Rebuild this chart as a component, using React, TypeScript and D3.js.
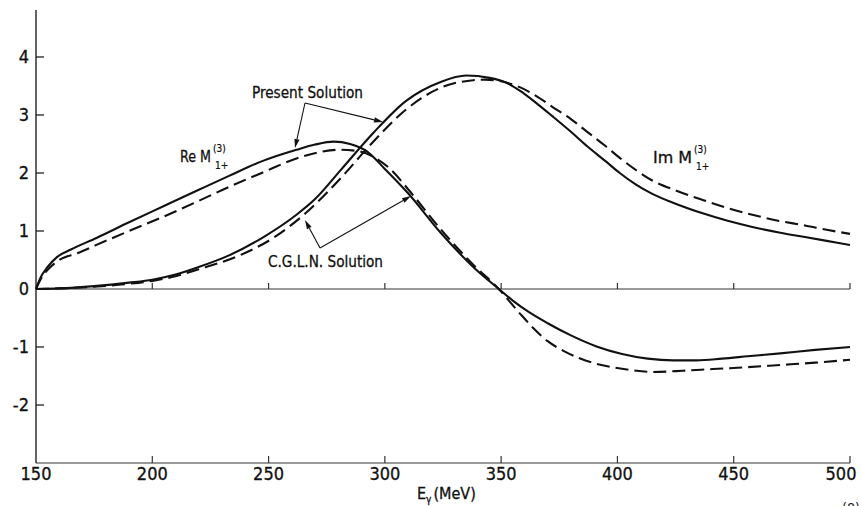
import React from "react"
import * as d3 from "d3"

const W = 861
const H = 506
const FONT = "'Liberation Sans Narrow', 'DejaVu Sans Condensed', 'Liberation Sans', sans-serif"

// x ticks (MeV) and y ticks
const xTicks = [150, 200, 250, 300, 350, 400, 450, 500]
const yTicks = [-2, -1, 0, 1, 2, 3, 4]

// Re M(3)1+ , present solution (solid)
const reSolidE = [150, 152, 155, 159, 165, 176, 190, 205, 220, 233, 247, 262, 270, 278, 285, 292, 300, 310, 324, 338, 349, 355, 362, 370, 380, 391, 402, 413, 424, 434, 445, 456, 470, 485, 500]
const reSolidV = [0, 0.2, 0.38, 0.55, 0.68, 0.88, 1.15, 1.43, 1.71, 1.95, 2.2, 2.4, 2.49, 2.54, 2.5, 2.38, 2.07, 1.65, 0.97, 0.38, 0, -0.2, -0.4, -0.59, -0.8, -0.99, -1.12, -1.2, -1.23, -1.23, -1.2, -1.16, -1.11, -1.05, -1.0]

// Re M(3)1+ , C.G.L.N. solution (dashed)
const reDashE = [150, 152, 155, 160, 168, 176, 190, 205, 220, 233, 247, 262, 272, 280, 288, 295, 302, 310, 324, 338, 349, 358, 364, 370, 377, 384, 391, 398, 406, 415, 428, 441, 455, 470, 485, 500]
const reDashV = [0, 0.17, 0.33, 0.5, 0.62, 0.76, 1.0, 1.25, 1.52, 1.76, 2.0, 2.25, 2.36, 2.4, 2.38, 2.28, 2.08, 1.72, 1.03, 0.42, 0, -0.42, -0.68, -0.9, -1.07, -1.2, -1.29, -1.35, -1.4, -1.43, -1.41, -1.38, -1.35, -1.31, -1.27, -1.22]

// Im M(3)1+ , present solution (solid)
const imSolidE = [150, 160, 175, 190, 200, 210, 220, 233, 248, 262, 270, 281, 295, 309, 324, 335, 345, 352, 358, 365, 372, 380, 387, 395, 401, 408, 415, 425, 437, 447, 458, 470, 480, 490, 500]
const imSolidV = [0, 0.01, 0.05, 0.11, 0.16, 0.25, 0.38, 0.58, 0.9, 1.28, 1.55, 2.05, 2.69, 3.24, 3.57, 3.68, 3.64, 3.56, 3.42, 3.21, 2.98, 2.71, 2.46, 2.2, 2.0, 1.8, 1.64, 1.47, 1.3, 1.18, 1.07, 0.97, 0.9, 0.83, 0.76]

// Im M(3)1+ , C.G.L.N. solution (dashed)
const imDashE = [150, 160, 175, 190, 200, 210, 220, 237, 252, 266, 281, 295, 309, 324, 338, 343, 350, 358, 365, 372, 380, 387, 395, 401, 408, 415, 425, 437, 447, 458, 470, 480, 490, 500]
const imDashV = [0, 0.01, 0.04, 0.09, 0.14, 0.22, 0.34, 0.57, 0.88, 1.31, 1.91, 2.54, 3.09, 3.47, 3.6, 3.61, 3.58, 3.48, 3.33, 3.14, 2.93, 2.71, 2.46, 2.26, 2.05, 1.87, 1.7, 1.53, 1.4, 1.28, 1.17, 1.1, 1.02, 0.95]

const x = d3.scaleLinear().domain([150, 500]).range([36, 850])
const y = d3.scaleLinear().domain([-3, 4.81]).range([463, 10])

function path(es: number[], vs: number[]) {
  const pts: [number, number][] = es.map((e, i) => [x(e), y(vs[i])])
  return d3.line().curve(d3.curveMonotoneX)(pts) || ""
}

function Arrow({ x1, y1, x2, y2 }: { x1: number; y1: number; x2: number; y2: number }) {
  const a = Math.atan2(y2 - y1, x2 - x1)
  const L = 9
  const w = 2.6
  const bx = x2 - L * Math.cos(a)
  const by = y2 - L * Math.sin(a)
  const p1 = [bx + w * Math.sin(a), by - w * Math.cos(a)]
  const p2 = [bx - w * Math.sin(a), by + w * Math.cos(a)]
  return (
    <g>
      <line x1={x1} y1={y1} x2={bx} y2={by} stroke="#111" strokeWidth={1.1} />
      <polygon points={`${x2},${y2} ${p1[0]},${p1[1]} ${p2[0]},${p2[1]}`} fill="#111" />
    </g>
  )
}

// label like "Re M(3)1+" with stacked super/subscript
function MLabel({ lx, ly, name, w }: { lx: number; ly: number; name: string; w: number }) {
  return (
    <g fill="#111" stroke="#111" strokeWidth={0.3}>
      <text x={lx} y={ly} fontSize={16} textLength={w} lengthAdjust="spacingAndGlyphs">
        {name}
      </text>
      <text x={lx + w + 2} y={ly - 10} fontSize={10} strokeWidth={0.2}>(3)</text>
      <text x={lx + w + 4} y={ly + 7} fontSize={10} strokeWidth={0.2}>1+</text>
    </g>
  )
}

export default function App() {
  const y0 = y(0)
  const yb = y(-3)
  return (
    <svg
      width={W}
      height={H}
      viewBox={`0 0 ${W} ${H}`}
      style={{ position: "absolute", left: 0, top: 0, background: "#fff" }}
      fontFamily={FONT}
    >
      {/* axes */}
      <line x1={x(150)} y1={y(4.81)} x2={x(150)} y2={yb} stroke="#222" strokeWidth={1.4} />
      <line x1={x(150)} y1={yb} x2={x(500)} y2={yb} stroke="#333" strokeWidth={1.2} />
      <line x1={x(150)} y1={y0} x2={x(500)} y2={y0} stroke="#333" strokeWidth={1.1} />
      {yTicks.map((t) => (
        <g key={"y" + t}>
          {t !== 0 && <line x1={x(150)} y1={y(t)} x2={x(150) + 8} y2={y(t)} stroke="#222" strokeWidth={1.3} />}
          <text x={29} y={y(t)} dy="0.36em" textAnchor="end" fontSize={18} fill="#111" stroke="#111" strokeWidth={0.3}>
            {t < 0 ? "-" + Math.abs(t) : t}
          </text>
        </g>
      ))}
      {xTicks.slice(1).map((t) => (
        <g key={"x" + t}>
          <line x1={x(t)} y1={y0} x2={x(t)} y2={y0 - 6} stroke="#333" strokeWidth={1.2} />
          <line x1={x(t)} y1={yb} x2={x(t)} y2={yb - 7} stroke="#333" strokeWidth={1.2} />
        </g>
      ))}
      {xTicks.map((t) => (
        <text
          key={"xl" + t}
          x={Math.min(x(t), 841)}
          y={480}
          textAnchor="middle"
          fontSize={18}
          fill="#111"
          stroke="#111"
          strokeWidth={0.3}
        >
          {t}
        </text>
      ))}
      <text x={417} y={499} fontSize={16} fill="#111" stroke="#111" strokeWidth={0.3}>
        E<tspan fontSize={10} dy={4}>γ</tspan>
        <tspan dy={-4} dx={2}>(MeV)</tspan>
      </text>

      {/* curves */}
      <g fill="none" stroke="#111" strokeWidth={2.1}>
        <path d={path(reSolidE, reSolidV)} />
        <path d={path(imSolidE, imSolidV)} />
        <path d={path(reDashE, reDashV)} strokeDasharray="13 6" />
        <path d={path(imDashE, imDashV)} strokeDasharray="13 6" />
      </g>

      {/* labels */}
      <MLabel lx={180} ly={162} name="Re M" w={31} />
      <MLabel lx={653} ly={163} name="Im M" w={39} />

      <text x={252} y={98} fontSize={16} fill="#111" stroke="#111" strokeWidth={0.3} textLength={111} lengthAdjust="spacingAndGlyphs">
        Present Solution
      </text>
      <Arrow x1={305} y1={103} x2={295} y2={148} />
      <Arrow x1={305} y1={103} x2={383} y2={122} />

      <text x={268} y={267} fontSize={16} fill="#111" stroke="#111" strokeWidth={0.3} textLength={115} lengthAdjust="spacingAndGlyphs">
        C.G.L.N. Solution
      </text>
      <Arrow x1={320} y1={248} x2={305} y2={220} />
      <Arrow x1={320} y1={248} x2={411} y2={196} />

      <text x={842} y={513} fontSize={14} fill="#111">(8)</text>
    </svg>
  )
}
